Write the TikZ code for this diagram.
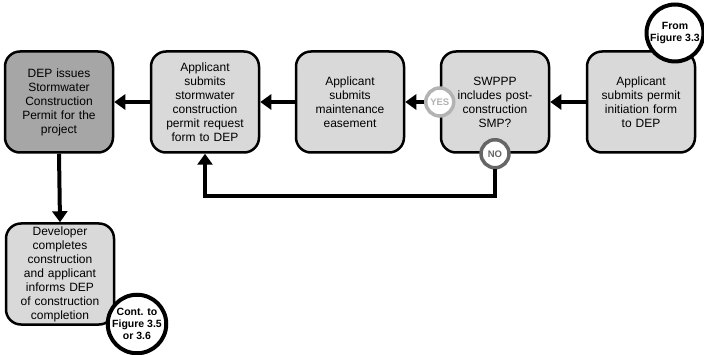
\documentclass[tikz,border=0pt]{standalone}
\usepackage{fontspec}
\setmainfont{Liberation Sans}
\usetikzlibrary{arrows.meta,calc}
\definecolor{boxgray}{HTML}{D9D9D9}
\definecolor{darkbox}{HTML}{A6A6A6}
\definecolor{yesgray}{HTML}{B3B3B3}
\definecolor{nogray}{HTML}{666666}
\begin{document}
\begin{tikzpicture}[x=1pt,y=-1pt,
  procbox/.style={draw=black, line width=2.5pt, rounded corners=15pt, fill=boxgray,
    minimum width=108pt, minimum height=101pt, text width=98pt, align=center,
    font=\fontsize{12}{14}\selectfont, inner sep=0pt},
  flowarrow/.style={line width=4pt, -{Triangle[length=11pt,width=15pt]}},
  refcircle/.style={circle, draw=black, line width=4pt, fill=white, minimum size=57pt,
    inner sep=0pt, align=center, font=\bfseries\fontsize{10.5}{12}\selectfont},
  decision/.style={circle, line width=3.5pt, fill=white, minimum size=28pt, inner sep=0pt,
    font=\bfseries\fontsize{9.5}{10}\selectfont}
]
\useasboundingbox (0,0) rectangle (704,355);
\fill[white] (0,0) rectangle (704,355);

\node[procbox, fill=darkbox] (b1) at (59,102) {DEP issues\\Stormwater\\Construction\\Permit for the\\project};
\node[procbox] (b2) at (205,102) {Applicant\\submits\\stormwater\\construction\\permit request\\form to DEP};
\node[procbox] (b3) at (350,102) {Applicant\\submits\\maintenance\\easement};
\node[procbox] (b4) at (495,102) {SWPPP\\includes post-\\construction\\SMP?};
\node[procbox] (b5) at (641,102) {Applicant\\submits permit\\initiation form\\to DEP};
\node[procbox] (b6) at (60,274) {Developer\\completes\\construction\\and applicant\\informs DEP\\of construction\\completion};

\node[refcircle] (from) at (675,33) {From\\Figure 3.3};
\node[refcircle] (cont) at (137,324) {Cont. to\\Figure 3.5\\or 3.6};

\node[decision, draw=yesgray, text=yesgray] (yes) at (b4.west) {YES};
\node[decision, draw=nogray, text=nogray] (no) at (b4.south) {NO};

\draw[flowarrow] (b5.west) -- (b4.east);
\draw[flowarrow] (yes.west) -- (b3.east);
\draw[flowarrow] (b3.west) -- (b2.east);
\draw[flowarrow] (b2.west) -- (b1.east);
\draw[flowarrow] (b1.south) -- (b6.north);
\coordinate (nocorner) at ($(no.south)+(0,27)$);
\draw[flowarrow] (no.south) -- (nocorner) -| (b2.south);
\end{tikzpicture}
\end{document}
